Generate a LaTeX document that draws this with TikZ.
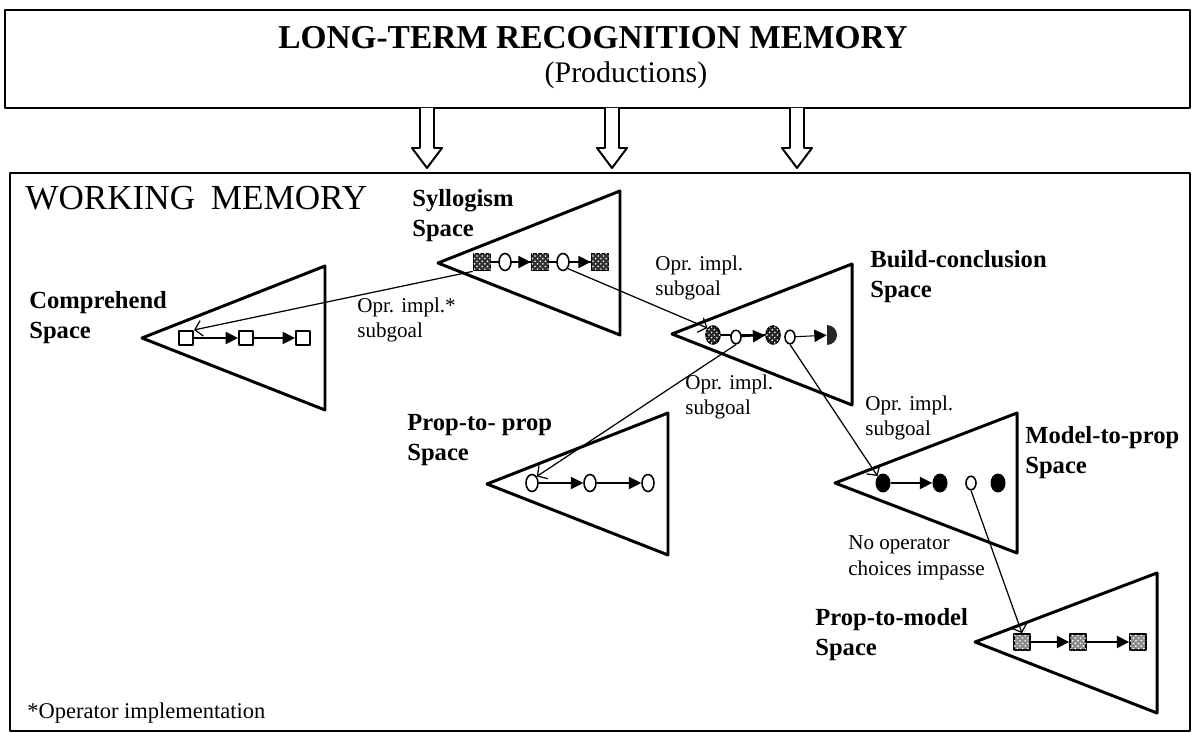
\documentclass[tikz,border=0pt]{standalone}
\usepackage{fontspec}
\setmainfont{Liberation Serif}
\usetikzlibrary{arrows.meta,patterns,shapes.geometric}

\begin{document}
\begin{tikzpicture}[
            x=0.02cm,
            y=-0.02cm,
            line join=round,
            membox/.style={line width=1.3pt},
            spacetri/.style={line width=1.7pt},
            spacelabel/.style={anchor=west, align=left, inner sep=0pt,
                font=\fontsize{14}{17}\selectfont\bfseries},
            oprlabel/.style={anchor=west, align=left, inner sep=0pt,
                font=\fontsize{12}{14.5}\selectfont},
            stepline/.style={line width=0.6pt, -{Triangle[length=7pt,width=7pt]}},
            subgoal/.style={line width=0.7pt, -{Straight Barb[length=4pt,width=9pt]}},
            opensq/.style={draw, line width=1.2pt, minimum size=0.28cm, inner sep=0pt},
            darksq/.style={draw, line width=1pt, minimum size=0.34cm, inner sep=0pt,
                fill=black!80, postaction={pattern=crosshatch dots, pattern color=white}},
            lightsq/.style={draw, line width=1pt, minimum size=0.32cm, inner sep=0pt,
                fill=black!45, postaction={pattern=crosshatch dots, pattern color=white}},
            openel/.style={ellipse, draw, fill=white, line width=0.9pt, inner sep=0pt,
                minimum width=0.24cm, minimum height=0.34cm},
            smallel/.style={ellipse, draw, fill=white, line width=0.9pt, inner sep=0pt,
                minimum width=0.2cm, minimum height=0.27cm},
            darkel/.style={ellipse, draw, line width=0.9pt, inner sep=0pt,
                minimum width=0.28cm, minimum height=0.36cm,
                fill=black!85, postaction={pattern=crosshatch dots, pattern color=white}},
            blackel/.style={ellipse, fill=black, inner sep=0pt,
                minimum width=0.3cm, minimum height=0.38cm}
        ]
            \useasboundingbox (0,0) rectangle (1194,733);

            % Long-term memory
            \draw[membox] (5,10) rectangle (1190,108);
            \node[font=\fontsize{19}{22}\selectfont\bfseries] (ltmtitle) at (593,38) {LONG-TERM RECOGNITION MEMORY};
            \node[font=\fontsize{17}{20}\selectfont] (ltmsub) at (626,75) {(Productions)};

            % Hollow arrows into working memory
            \foreach \x in {427,612,797}
                \draw[line width=1.1pt, fill=white] ({\x-7},108) -- ({\x-7},148) -- ({\x-15},148)
                    -- (\x,168) -- ({\x+15},148) -- ({\x+7},148) -- ({\x+7},108);

            % Working memory
            \draw[membox] (10,173) rectangle (1190,731);
            \node[anchor=west, inner sep=0pt, font=\fontsize{20}{24}\selectfont] (wmtitle) at (25,198) {WORKING\hspace{0.45em}MEMORY};
            \node[anchor=west, inner sep=0pt, font=\fontsize{12.8}{15}\selectfont] (footnote) at (27,713) {*Operator implementation};

            % Problem spaces
            \draw[spacetri] (142,338) -- ++(183,-72) -- ++(0,144) -- cycle;
            \draw[spacetri] (438,263) -- ++(182,-72) -- ++(0,144) -- cycle;
            \draw[spacetri] (672,334) -- ++(180,-70) -- ++(0,141) -- cycle;
            \draw[spacetri] (487,484) -- ++(181,-71) -- ++(0,142) -- cycle;
            \draw[spacetri] (835,483) -- ++(182,-70) -- ++(0,140) -- cycle;
            \draw[spacetri] (975,642) -- ++(182,-69) -- ++(0,140) -- cycle;

            \node[spacelabel] (comprehend) at (29,318) {Comprehend\\Space};
            \node[spacelabel] (syllogism) at (412,216) {Syllogism\\Space};
            \node[spacelabel] (buildconc) at (870,277) {Build-conclusion\\Space};
            \node[spacelabel] (proptoprop) at (407,440) {Prop-to- prop\\Space};
            \node[spacelabel] (modeltoprop) at (1025,453) {Model-to-prop\\Space};
            \node[spacelabel] (proptomodel) at (815,635) {Prop-to-model\\Space};

            % States in Comprehend space
            \node[opensq] (c1) at (186,338) {};
            \node[opensq] (c2) at (246,338) {};
            \node[opensq] (c3) at (303,338) {};
            \draw[stepline] (c1) -- (c2);
            \draw[stepline] (c2) -- (c3);

            % States in Syllogism space
            \node[darksq] (s1) at (482,262) {};
            \node[darksq] (s2) at (540,262) {};
            \node[darksq] (s3) at (600,262) {};
            \draw[line width=0.6pt] (s1) -- (s2);
            \draw[line width=0.6pt] (s2) -- (s3);
            \node[openel] (e1) at (505,262) {};
            \node[openel] (e2) at (563,262) {};
            \draw[stepline] (e1) -- (s2);
            \draw[stepline] (e2) -- (s3);

            % States in Build-conclusion space
            \node[darkel] (b1) at (713,335) {};
            \node[darkel] (b3) at (773,335) {};
            \node[semicircle, rotate=-90, fill=black!85, inner sep=0pt, minimum size=0.2cm] (b5) at (831,335) {};
            \draw[line width=0.6pt] (b1) -- (b3);
            \node[smallel] (b2) at (736,337) {};
            \node[smallel] (b4) at (790,337) {};
            \draw[stepline] (b2) -- (b3);
            \draw[stepline] (b4) -- (b5);

            % States in Prop-to-prop space
            \node[openel] (p1) at (532,483) {};
            \node[openel] (p2) at (590,483) {};
            \node[openel] (p3) at (648,483) {};
            \draw[stepline] (p1) -- (p2);
            \draw[stepline] (p2) -- (p3);

            % States in Model-to-prop space
            \node[blackel] (m1) at (883,483) {};
            \node[blackel] (m2) at (940,483) {};
            \node[smallel] (m3) at (971,483) {};
            \node[blackel] (m4) at (998,483) {};
            \draw[stepline] (m1) -- (m2);

            % States in Prop-to-model space
            \node[lightsq] (q1) at (1022,642) {};
            \node[lightsq] (q2) at (1078,642) {};
            \node[lightsq] (q3) at (1138,642) {};
            \draw[stepline] (q1) -- (q2);
            \draw[stepline] (q2) -- (q3);

            % Subgoals
            \draw[subgoal] (s1.south west) -- (c1.north east);
            \draw[subgoal] (e2.south east) -- (b1.north west);
            \draw[subgoal] (b2.south) -- (p1.north east);
            \draw[subgoal] (b4.south) -- (m1.north west);
            \draw[subgoal] (m3.south) -- (q1.north);

            \node[oprlabel] (opr1) at (357,320) {Opr. impl.*\\subgoal};
            \node[oprlabel] (opr2) at (655,278) {Opr. impl.\\subgoal};
            \node[oprlabel] (opr3) at (685,397) {Opr. impl.\\subgoal};
            \node[oprlabel] (opr4) at (865,418) {Opr. impl.\\subgoal};
            \node[oprlabel] (impasse) at (848,558) {No operator\\choices impasse};
        \end{tikzpicture}
\end{document}
